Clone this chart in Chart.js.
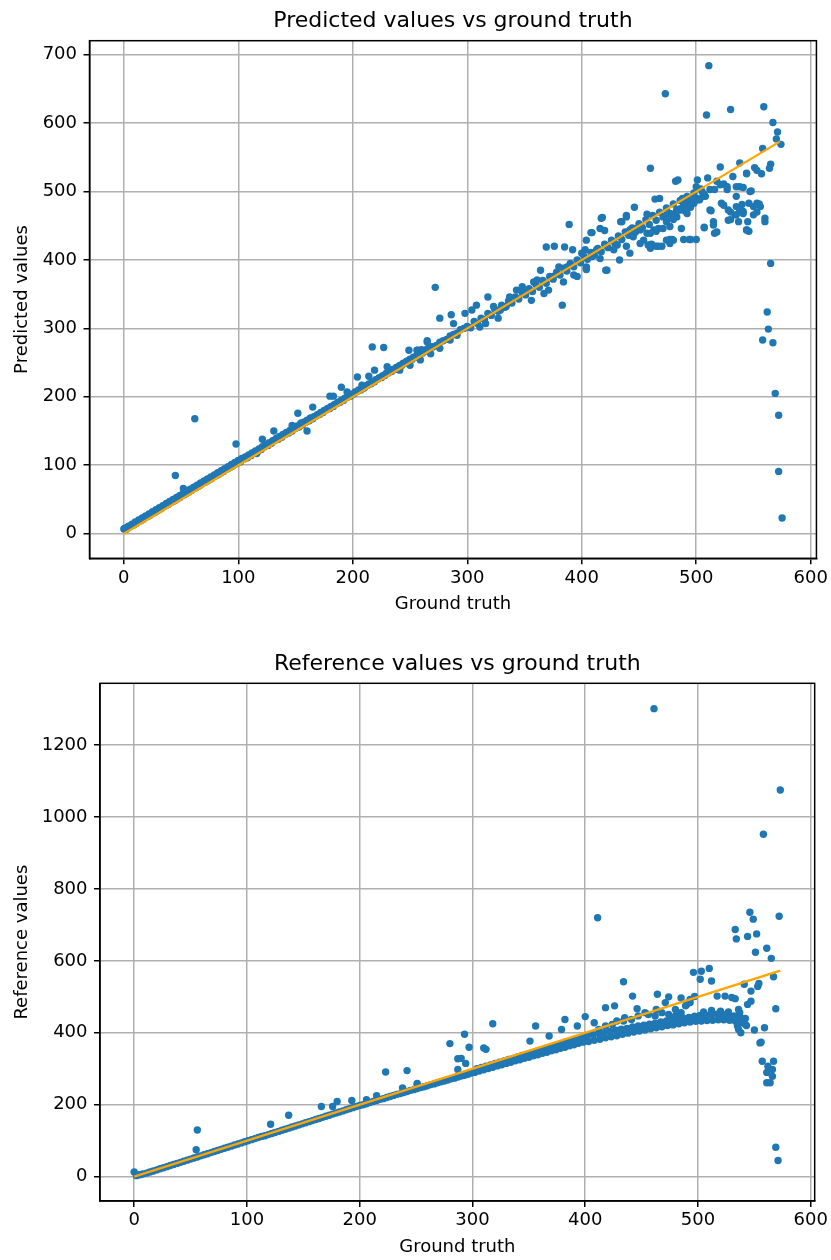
<!DOCTYPE html>
<html>
<head>
<meta charset="utf-8">
<script src="https://cdn.jsdelivr.net/npm/chart.js@4.4.1/dist/chart.umd.min.js"></script>
<style>
html,body{margin:0;padding:0;background:#fff;}
#wrap{position:relative;width:831px;height:1260px;overflow:hidden;}
canvas{position:absolute;left:0;}
#c1{top:0;}
#c2{top:630px;}
</style>
</head>
<body>
<div id="wrap">
<canvas id="c1" width="831" height="630" style="width:831px;height:630px"></canvas>
<canvas id="c2" width="831" height="630" style="width:831px;height:630px"></canvas>
</div>
<script>
// ---------- DATA ----------
const topTitle = "Predicted values vs ground truth";
const bottomTitle = "Reference values vs ground truth";
const xAxisLabel = "Ground truth";
const topYLabel = "Predicted values";
const bottomYLabel = "Reference values";

const xTicks = [0, 100, 200, 300, 400, 500, 600];
const topYTicks = [0, 100, 200, 300, 400, 500, 600, 700];
const bottomYTicks = [0, 200, 400, 600, 800, 1000, 1200];

// identity line (ground truth vs itself)
const identityLine = [[0, 0], [573, 573]];

// [ground truth, predicted] - dense band close to the identity line
const predBand = [
[0,7],[2,6],[3,9],[5,10],[7,12],[9,13],[11,15],[13,18],[15,19],[17,21],[19,24],[21,25],[23,27],[25,30],[27,31],[29,33],[31,35],[33,37],[35,40],[37,41],[39,43],[41,46],[43,47],[45,49],[47,51],[49,53],[51,56],[53,57],[55,59],[57,61],[59,63],[61,66],[63,67],[65,69],[67,71],[69,74],[71,75],[73,77],[75,79],[77,81],[79,84],[81,85],[83,87],[85,89],[87,91],[89,94],[91,95],[93,97],[95,99],[97,101],[99,103],
[1,8],[4,11],[7,14],[10,17],[13,20],[16,23],[19,26],[22,29],[25,32],[28,35],[31,38],[34,41],[37,44],[40,47],[43,50],[46,53],[49,56],[52,59],[55,62],[58,65],[61,68],[64,71],[67,74],[70,77],[73,80],[76,83],[79,86],[82,89],[85,92],[88,95],[91,98],[94,101],[97,104],[100,107],[103,110],[106,112],[109,115],[112,118],[115,121],[118,124],[121,127],[124,130],[127,133],[130,136],[133,139],[136,142],[139,145],[142,148],[145,151],[148,154],[151,157],[154,160],[157,163],[160,166],[163,169],[166,171],[169,174],[172,177],[175,180],[178,183],[181,186],[184,189],[187,192],[190,195],[193,198],[196,201],[199,204],[202,207],[205,210],[208,213],[211,216],[214,219],[217,222],[220,225],[223,228],[226,231],[229,234],[232,237],[235,240],[238,243],[241,246],[244,249],[247,252],[250,255],[253,258],[256,261],[259,264],[262,267],[265,270],[268,273],
[102,105],[105,109],[108,111],[111,114],[114,118],[117,120],[120,123],[123,127],[126,129],[129,132],[132,136],[135,138],[138,141],[141,145],[144,147],[147,150],[150,154],[153,156],[156,159],[159,163],[162,165],[165,168],[168,172],[171,174],[174,177],[177,181],[180,183],[183,186],[186,190],[189,192],[192,195],[195,199],[198,201],[201,204],[204,208],[207,210],[210,213],[213,217],[216,219],[219,222],[222,226],[225,228],[228,231],[231,235],[234,237],[237,240],[240,244],[243,246],[246,249],[249,253],[252,255],[255,258],[258,262],[261,264],[264,267],[267,271],[270,273],[273,275],[276,280],[279,282],[282,284],[285,289],[288,291],[291,293],[294,298],[297,300],
[300,303],[303,301],[306,310],[309,307],[312,315],[315,313],[318,322],[321,319],[324,328],[327,325],[330,334],[333,331],[336,340],[339,337],[342,346],[345,343],[348,352],[351,349],[354,358],[357,354],[360,364],[363,360],[366,370],[369,366],[372,376],[375,372],[378,382],[381,378],[384,388],[387,384],[390,394],[393,390],[396,400],[399,396],[402,405],[405,401],[408,411],[411,407],[414,417],[417,412],[420,423],[423,418],[426,429],[429,424],[432,435],[435,430],[438,441],[441,436],[444,447],[447,441],[450,453],[453,447],[456,459],[459,452],[462,465],[465,458],[468,470],[471,463],[474,476],[477,468],[480,482],[483,474],[486,487],[489,479],[492,493],[495,485],[498,498],[501,490],[504,504],[507,496]
];

// [ground truth, predicted] - scattered points
const predScatter = [
[45,85],[52,66],[62,168],[98,131],[116,117],[121,138],[131,150],[147,158],[152,176],[155,162],[160,150],[165,185],[180,201],[183,201],[190,214],[195,207],[204,229],[208,217],[214,230],[219,239],[217,273],[227,272],[230,244],[249,268],[256,268],[260,269],[265,282],[268,273],[272,360],
[241,239],[250,246],[259,254],[268,263],[276,271],[285,283],[291,290],[300,302],[257,268],[265,280],[276,315],[286,320],[288,307],[298,322],[304,327],[308,334],[311,302],[316,307],[318,346],[323,332],[327,315],[329,327],[334,332],[337,346],[343,356],[348,361],[352,356],[356,341],[358,368],[361,371],[364,385],[367,351],[371,356],[375,376],[380,390],[384,368],[387,390],[390,395],[393,378],[396,376],[400,410],[403,415],[404,390],[409,405],[413,415],[416,402],[422,420],[428,415],[431,422],[433,400],[439,420],[442,410],[445,434],[451,444],[454,429],[457,439],[463,444],[467,446],[470,420],[474,456],[477,449],[480,429],[483,463],[486,473],[489,483],[493,478],[498,493],[502,488],[506,493],
[383,334],[422,385],[404,388],[369,419],[376,420],[385,419],[392,415],[389,452],[409,440],[417,461],[416,446],[420,443],[404,429],[434,456],[439,463],[446,477],[457,467],[464,489],[468,490],[460,534],
[451,424],[458,422],[465,420],[474,429],[477,424],[487,446],[489,430],[495,430],[500,430],[507,448],[515,456],[516,439],[512,473],[522,483],[528,473],[530,459],[534,466],[537,456],[544,444],[546,442],[541,471],[550,466],[553,483],[556,478],[560,456],[547,500],[538,507],[535,493],[532,522],[544,527],[527,503],[521,510],[516,503],[508,493],[503,488],[498,483],[492,468],[484,473],[480,459],[471,446],[465,442],[460,439],[452,449],[447,446],[442,444],
[511,684],[473,643],[509,612],[530,620],[559,624],[567,601],[571,587],[570,577],[574,569],[558,563],[538,542],[521,536],[565,540],[564,534],[551,535],[553,531],[557,526],[544,526],[510,520],[482,515],[484,517],[501,517],[518,515],[524,511],[527,507],[535,507],[541,506],[548,501],[500,507],[505,500],[512,503],[488,490],[492,483],[497,487],[524,480],[535,478],[540,481],[546,483],[550,478],[553,470],[555,482],[530,470],[535,466],[541,468],[538,472],[513,472],[486,475],[490,472],[495,477],[474,466],[478,463],[482,469],[418,462],[408,440],[439,465],[435,456],[528,458],[545,456],[560,461],[515,451],[507,447],[518,441],[544,444],[494,430],[477,430],[479,430],[461,423],[467,420],[460,417],
[565,395],[421,385],[404,386],
[562,324],[563,299],[558,283],[567,279],[569,205],[572,173],[572,91],[575,23]
];

// [ground truth, reference] - dense band
const refBand = [
[0,13],[2,3],[4,5],[6,6],[8,8],[11,10],[14,13],[17,16],[20,19],[23,22],[26,25],[29,28],[32,31],[35,34],[38,37],[41,40],[44,43],[47,46],[50,49],[53,52],[56,55],[59,58],[62,61],[65,64],[68,67],[71,70],[74,73],[77,76],[80,79],[83,82],[86,85],[89,88],[92,91],[95,94],[98,97],
[101,100],[104,103],[107,106],[110,109],[113,112],[116,114],[119,117],[122,120],[125,123],[128,126],[131,129],[134,132],[137,135],[140,138],[143,141],[146,144],[149,147],[152,150],[155,153],[158,156],[161,159],[164,162],[167,165],[170,168],[173,171],[176,174],[179,177],[182,180],[185,183],[188,186],[191,189],[194,192],[197,195],[200,198],[203,200],[206,203],[209,206],[212,209],[215,212],[218,215],[221,217],[224,220],[227,223],[230,226],[233,229],[236,231],[239,234],[242,237],[245,240],[248,242],[251,245],[254,248],[257,250],[260,253],[263,256],[266,258],[269,261],[272,264],[275,266],[278,269],[281,272],[284,274],[287,277],[290,280],[293,282],[296,285],[299,288],
[302,290],[306,294],[310,297],[314,301],[318,304],[322,308],[326,311],[330,315],[334,318],[338,322],[342,325],[346,329],[350,332],[354,336],[358,339],[362,343],[366,346],[370,350],[374,353],[378,357],[382,360],[386,364],[390,367],[394,371],[398,374],
[304,300],[308,304],[312,307],[316,311],[320,315],[324,318],[328,322],[332,326],[336,329],[340,333],[344,337],[348,340],[352,344],[356,348],[360,351],[364,355],[368,359],[372,362],[376,366],[380,370],[384,373],[388,377],[392,380],[396,384],[400,388],
[403,376],[408,379],[413,382],[418,386],[423,389],[428,392],[433,396],[438,399],[443,402],[448,405],[453,408],[458,411],[463,414],[468,417],[473,420],[478,422],[483,425],[488,428],[493,430],[498,432],[503,433],[508,434],[513,435],[518,436],[523,436],[528,435],[533,433],[538,428],[543,420],
[402,392],[407,395],[412,398],[417,400],[422,404],[427,407],[432,410],[437,412],[442,416],[447,419],[452,421],[457,424],[462,427],[467,430],[472,433],[477,436],[482,438],[487,441],[492,443],[497,446],[502,448],[507,449],[512,451],[517,452],[522,451],[527,450],[532,447],[537,444],[542,440]
];

// [ground truth, reference] - scattered points
const refScatter = [
[56,130],[55,75],[121,146],[137,171],[166,195],[176,195],[180,209],[193,212],[206,214],[215,225],[223,291],[242,295],[238,247],[251,256],[280,370],[287,328],[287,298],
[318,425],[312,354],[293,396],[297,360],[310,358],[290,329],[294,315],[251,259],[356,419],[368,391],[351,377],[379,409],[382,437],[393,419],[400,445],[408,428],[412,409],[418,419],[424,423],[428,433],[434,433],[435,442],[441,437],[447,447],[453,456],[456,451],[462,447],[468,456],[474,451],[480,447],[485,456],[490,479],[493,484],
[505,458],[512,462],[520,460],[527,458],
[411,720],[461,1301],[573,1075],[558,952],[546,735],[549,716],[572,724],[533,687],[534,661],[544,668],[552,675],[551,624],[561,635],[565,607],[496,568],[503,571],[510,579],[567,556],[502,549],[512,544],[434,542],[541,535],[547,516],[553,529],[554,537],[442,502],[464,507],[474,500],[485,497],[493,493],[497,501],[517,502],[524,502],[530,498],[533,495],[547,488],[544,479],[569,467],[418,470],[426,475],[446,467],[463,465],[471,484],[480,465],[491,484],[489,475],
[538,400],[536,409],[550,408],[559,414],[555,372],[556,374],[557,321],[567,321],[562,307],[561,290],[566,298],[566,279],[561,261],[564,261],[569,82],[571,45],[540,439],[542,423],[535,419],[537,456],[536,465]
];

// ---------- CHART ----------
Chart.defaults.font.family = "'DejaVu Sans', sans-serif";
Chart.defaults.color = '#000';

const toXY = arr => arr.map(p => ({x: p[0], y: p[1]}));

const framePlugin = {
  id: 'frameTitle',
  afterDraw(chart, args, opts) {
    const {ctx, chartArea: a} = chart;
    ctx.save();
    ctx.strokeStyle = '#000';
    ctx.lineWidth = 1.5;
    ctx.strokeRect(a.left, a.top, a.right - a.left, a.bottom - a.top);
    ctx.fillStyle = '#000';
    ctx.font = "22px 'DejaVu Sans', sans-serif";
    ctx.textAlign = 'center';
    ctx.textBaseline = 'alphabetic';
    ctx.fillText(opts.text, (a.left + a.right) / 2, a.top - opts.gap);
    ctx.restore();
  }
};

function makeChart(id, cfg) {
  const gridOpts = {color: '#b0b0b0', lineWidth: 1.5, tickColor: '#000', tickWidth: 1.5, tickLength: 6, drawTicks: true};
  return new Chart(document.getElementById(id), {
    type: 'scatter',
    data: {
      datasets: [
        {type: 'line', data: toXY(identityLine), borderColor: '#ffa500', borderWidth: 2.3, pointRadius: 0, fill: false, tension: 0},
        {data: toXY(cfg.points), backgroundColor: '#1f77b4', borderWidth: 0, pointRadius: 3.7, pointHoverRadius: 3.7}
      ]
    },
    options: {
      responsive: false,
      animation: false,
      events: [],
      layout: {padding: {top: cfg.padTop, right: cfg.padRight, left: 0, bottom: 0}},
      plugins: {
        legend: {display: false},
        tooltip: {enabled: false},
        frameTitle: {text: cfg.title, gap: cfg.titleGap}
      },
      scales: {
        x: {
          type: 'linear', min: cfg.xMin, max: cfg.xMax,
          afterBuildTicks: s => { s.ticks = xTicks.map(v => ({value: v})); },
          afterFit: s => { s.height = cfg.xAxisH; },
          grid: gridOpts,
          border: {display: true, color: '#000', width: 1.5},
          ticks: {color: '#000', font: {size: 18}, padding: 3, maxRotation: 0, autoSkip: false, callback: v => String(v)},
          title: {display: true, text: xAxisLabel, color: '#000', font: {size: 18}, padding: {top: 0, bottom: cfg.xTitlePad}}
        },
        y: {
          type: 'linear', min: cfg.yMin, max: cfg.yMax,
          afterBuildTicks: s => { s.ticks = cfg.yTicks.map(v => ({value: v})); },
          afterFit: s => { s.width = cfg.yAxisW; },
          grid: gridOpts,
          border: {display: true, color: '#000', width: 1.5},
          ticks: {color: '#000', font: {size: 18}, padding: 6.5, autoSkip: false, callback: v => String(v)},
          title: {display: true, text: cfg.yLabel, color: '#000', font: {size: 18}, padding: {top: 12, bottom: 0}}
        }
      }
    },
    plugins: [framePlugin]
  });
}

makeChart('c1', {
  points: predBand.concat(predScatter),
  title: topTitle, titleGap: 14,
  yLabel: topYLabel, yTicks: topYTicks,
  xMin: -30, xMax: 605, yMin: -36, yMax: 720.5,
  padTop: 40.7, padRight: 14.3, yAxisW: 89.5, xAxisH: 71.7, xTitlePad: 15
});

makeChart('c2', {
  points: refBand.concat(refScatter),
  title: bottomTitle, titleGap: 13,
  yLabel: bottomYLabel, yTicks: bottomYTicks,
  xMin: -30.3, xMax: 603.5, yMin: -67.5, yMax: 1371.5,
  padTop: 53.3, padRight: 14.3, yAxisW: 100, xAxisH: 59, xTitlePad: 2
});
</script>
</body>
</html>
